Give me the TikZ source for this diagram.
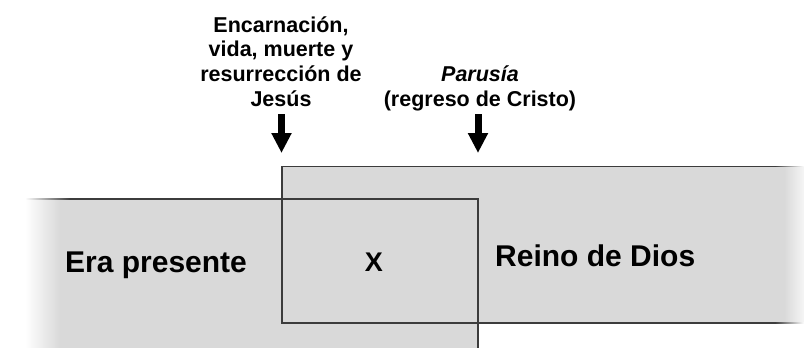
\documentclass[tikz,border=0pt]{standalone}
\usepackage{fontspec}
\setmainfont{Liberation Sans}
\usetikzlibrary{arrows.meta}
\definecolor{boxgray}{HTML}{D9D9D9}
\definecolor{edgegray}{HTML}{3C3C3C}
\begin{document}
\begin{tikzpicture}[x=1pt,y=-1pt,
  edge/.style={draw=edgegray, line width=1.3pt},
  downarrow/.style={line width=7pt, -{Triangle[width=19pt,length=20pt]}},
  toplabel/.style={font=\bfseries\fontsize{21.5}{24.6}\selectfont, align=center, inner sep=0pt},
  bigtext/.style={font=\bfseries\fontsize{30}{36}\selectfont, inner sep=0pt}]
\useasboundingbox (0,0) rectangle (804,348);
% fills
\fill[boxgray] (60,199) rectangle (478,349);
\shade[left color=white, right color=boxgray] (25,199) rectangle (60,349);
\fill[boxgray] (282,166.5) rectangle (784,323);
\shade[left color=boxgray, right color=boxgray!25!white] (784,166.5) rectangle (804,323);
% outlines
\draw[edge] (70,199) -- (478,199) -- (478,349);
\foreach \i in {0,...,44}{
  \pgfmathsetmacro{\pct}{100*\i/45}
  \draw[draw=edgegray!\pct!white, line width=1.3pt] (25+\i,199) -- (26.2+\i,199);
}
\draw[edge] (775,166.5) -- (282,166.5) -- (282,323) -- (775,323);
\foreach \i in {0,...,28}{
  \pgfmathsetmacro{\pct}{100-100*\i/29}
  \draw[draw=edgegray!\pct!white, line width=1.3pt] (775+\i,166.5) -- (776.2+\i,166.5);
  \draw[draw=edgegray!\pct!white, line width=1.3pt] (775+\i,323) -- (776.2+\i,323);
}
% texts
\node[bigtext, anchor=base west] (era) at (65,272) {Era presente};
\node[bigtext, anchor=base west] (reino) at (495,266) {Reino de Dios};
\node[font=\bfseries\fontsize{27}{32}\selectfont, inner sep=0pt, anchor=base] (xmark) at (374,271.5) {X};
\node[toplabel, anchor=base] (jesus) at (281,106) {Encarnación,\\vida, muerte y\\resurrección de\\Jesús};
\node[toplabel, anchor=base] (parusia) at (480,106) {\textit{Parusía}\\(regreso de Cristo)};
% arrows
\coordinate (j1) at (281.5,114);
\coordinate (j2) at (281.5,153);
\coordinate (p1) at (478,114);
\coordinate (p2) at (478,153);
\draw[downarrow] (j1) -- (j2);
\draw[downarrow] (p1) -- (p2);
\end{tikzpicture}
\end{document}
